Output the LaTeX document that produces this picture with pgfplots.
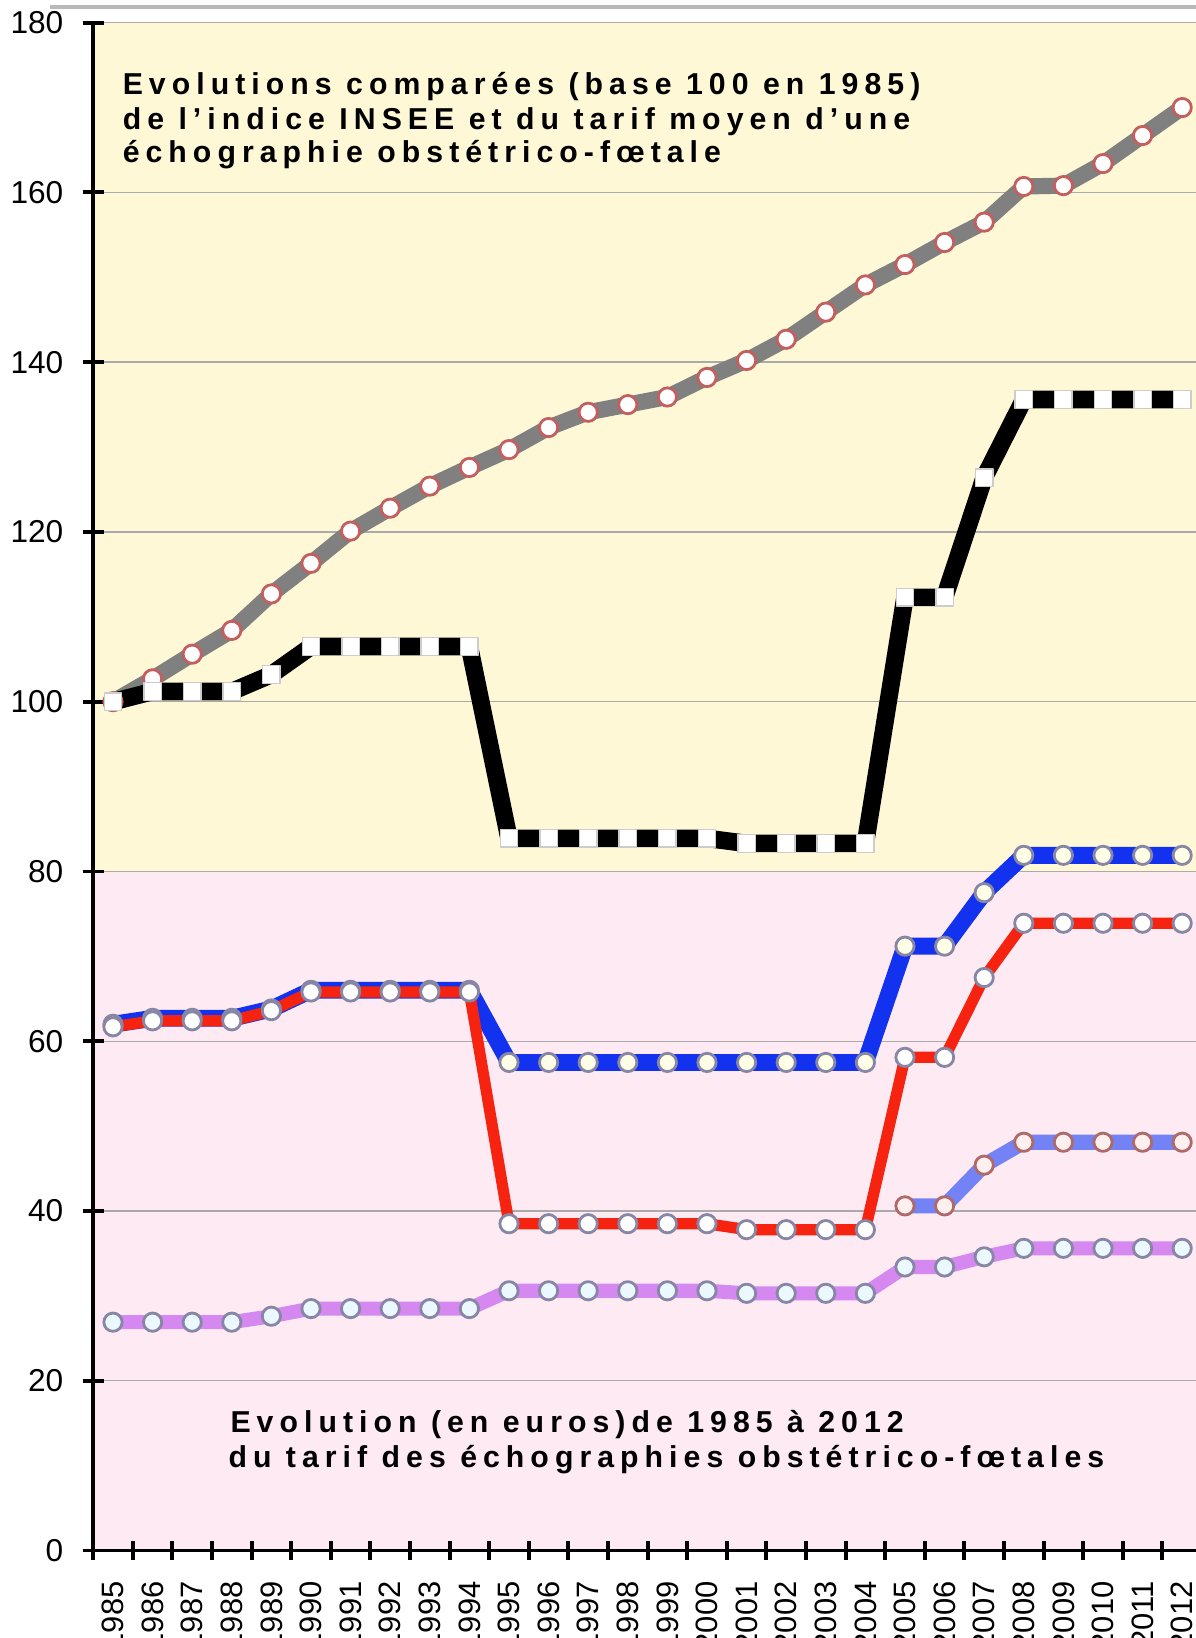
\documentclass[border=0pt]{standalone}
\usepackage{fontspec}
\setmainfont{Liberation Sans}
\newfontfamily\annfont{Liberation Sans}[LetterSpace=20]
\usepackage{pgfplots}
\usepackage{pgfplotstable}
\pgfplotsset{compat=1.18}

\definecolor{bgyellow}{RGB}{254,248,214}
\definecolor{bgpink}{RGB}{253,234,242}
\definecolor{gridgray}{RGB}{170,170,170}
\definecolor{inseegray}{RGB}{128,128,128}
\definecolor{echoblue}{RGB}{18,50,240}
\definecolor{echored}{RGB}{245,35,15}
\definecolor{echoviolet}{RGB}{212,136,240}
\definecolor{echolblue}{RGB}{115,130,245}
\definecolor{markpink}{RGB}{195,95,95}
\definecolor{markgray}{RGB}{135,135,165}

% indice INSEE, tarif moyen (base 100), tarifs en euros
\pgfplotstableread{
year grey  black blue red  violet lblue
1985 100.0 100.0 62.0 61.7 26.9 nan
1986 102.7 101.2 62.7 62.4 26.9 nan
1987 105.6 101.2 62.7 62.4 26.9 nan
1988 108.4 101.2 62.7 62.4 26.9 nan
1989 112.7 103.2 63.8 63.6 27.6 nan
1990 116.3 106.5 66.0 65.8 28.5 nan
1991 120.1 106.5 66.0 65.8 28.5 nan
1992 122.8 106.5 66.0 65.8 28.5 nan
1993 125.4 106.5 66.0 65.8 28.5 nan
1994 127.6 106.5 66.0 65.8 28.5 nan
1995 129.7 83.9  57.5 38.5 30.6 nan
1996 132.3 83.9  57.5 38.5 30.6 nan
1997 134.1 83.9  57.5 38.5 30.6 nan
1998 135.0 83.9  57.5 38.5 30.6 nan
1999 135.9 83.9  57.5 38.5 30.6 nan
2000 138.2 83.9  57.5 38.5 30.6 nan
2001 140.2 83.3  57.5 37.8 30.3 nan
2002 142.7 83.3  57.5 37.8 30.3 nan
2003 145.9 83.3  57.5 37.8 30.3 nan
2004 149.1 83.3  57.5 37.8 30.3 nan
2005 151.5 112.3 71.2 58.1 33.4 40.6
2006 154.1 112.3 71.2 58.1 33.4 40.6
2007 156.5 126.4 77.5 67.5 34.6 45.4
2008 160.7 135.6 81.9 73.9 35.6 48.1
2009 160.8 135.6 81.9 73.9 35.6 48.1
2010 163.4 135.6 81.9 73.9 35.6 48.1
2011 166.7 135.6 81.9 73.9 35.6 48.1
2012 170.0 135.6 81.9 73.9 35.6 48.1
}\tarifs

\begin{document}
\begin{tikzpicture}
  \begin{axis}[
      set layers,
      scale only axis,
      width=110.48mm,
      height=152.78mm,
      xmin=1984.5, xmax=2012.4,
      ymin=0, ymax=180,
      axis x line=bottom,
      axis y line=left,
      axis line style={-, black, line width=1.1pt},
      ytick={0,20,...,180},
      xtick={1985,1986,...,2012},
      minor xtick={1984.5,1985.5,...,2012.5},
      tick align=center,
      major tick length=2.1mm,
      minor tick length=1.9mm,
      major x tick style={draw=none},
      major y tick style={black, line width=1.1pt},
      minor x tick style={black, line width=1.1pt},
      ymajorgrids=true,
      grid style={gridgray, line width=0.4pt},
      /pgf/number format/assume math mode=true,
      /pgf/number format/1000 sep={},
      yticklabel style={font=\fontsize{9}{11}\selectfont, xshift=-0.7mm},
      xticklabel shift=0.8mm,
      xticklabel style={font=\fontsize{8.8}{10}\selectfont, rotate=90, anchor=east},
      clip=false,
    ]

    \begin{pgfonlayer}{axis background}
      \fill[bgpink] (axis cs:1984.5,0) rectangle (axis cs:2012.4,80);
      \fill[bgyellow] (axis cs:1984.5,80) rectangle (axis cs:2012.4,180);
    \end{pgfonlayer}

    \addplot[inseegray, line width=4.6pt, line join=round,
      mark=*, mark size=2.6pt,
      mark options={fill=white, draw=markpink, line width=0.8pt}]
      table[x=year, y=grey] {\tarifs};

    \addplot[black, line width=5pt, line join=round,
      mark=square*, mark size=2.5pt,
      mark options={fill=white, draw=white!80!black, line width=0.4pt}]
      table[x=year, y=black] {\tarifs};

    \addplot[echoblue, line width=4.8pt, line join=round,
      mark=*, mark size=2.6pt,
      mark options={fill=white!90!yellow, draw=markgray, line width=0.8pt}]
      table[x=year, y=blue] {\tarifs};

    \addplot[echored, line width=3.2pt, line join=round,
      mark=*, mark size=2.6pt,
      mark options={fill=white, draw=markgray, line width=0.8pt}]
      table[x=year, y=red] {\tarifs};

    \addplot[echolblue, line width=4.3pt, line join=round,
      mark=*, mark size=2.6pt,
      mark options={fill=white!94!red, draw=markpink!70!gray, line width=0.8pt}]
      table[x=year, y=lblue] {\tarifs};

    \addplot[echoviolet, line width=4pt, line join=round,
      mark=*, mark size=2.6pt,
      mark options={fill=white!92!cyan, draw=markgray, line width=0.8pt}]
      table[x=year, y=violet] {\tarifs};

    \begin{scope}[every node/.style={anchor=base west, inner sep=0pt,
        font=\annfont\bfseries\fontsize{8.6}{10}\selectfont}]
      \node at (axis cs:1985.23,171.5) {Evolutions comparées (base 100 en 1985)};
      \node at (axis cs:1985.23,167.4) {de l’indice INSEE et du tarif moyen d’une};
      \node at (axis cs:1985.23,163.5) {échographie obstétrico-fœtale};
      \node at (axis cs:1987.95,13.96) {Evolution (en euros)de 1985 à 2012};
      \node at (axis cs:1987.90,9.72) {du tarif des échographies obstétrico-fœtales};
    \end{scope}
  \end{axis}
  \draw[gray!55, line width=1.4pt] (-4.3mm,154.35mm) -- (112mm,154.35mm);
  \pgfresetboundingbox
  \path[use as bounding box] (-9.32mm,-8.75mm) rectangle (110.18mm,155.05mm);
\end{tikzpicture}
\end{document}
